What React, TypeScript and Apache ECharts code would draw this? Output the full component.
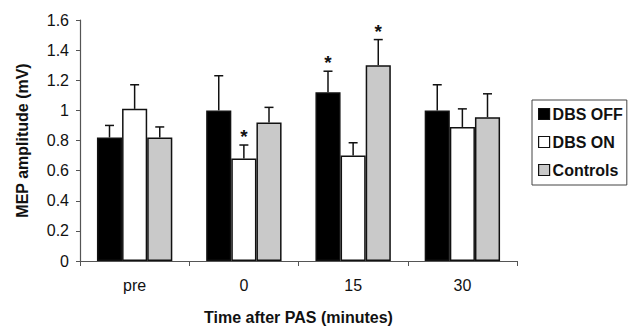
import React, { useEffect, useRef } from "react";
import * as echarts from "echarts";

const categories = ["pre", "0", "15", "30"];
const seriesNames = ["DBS OFF", "DBS ON", "Controls"];
const dbsOff = [0.82, 1.0, 1.12, 1.0];
const dbsOffErr = [0.08, 0.23, 0.14, 0.17];
const dbsOn = [1.01, 0.68, 0.7, 0.89];
const dbsOnErr = [0.16, 0.09, 0.085, 0.12];
const controls = [0.82, 0.92, 1.3, 0.955];
const controlsErr = [0.07, 0.1, 0.17, 0.155];
// significance markers: [series index, category index]
const stars = [
  [1, 1],
  [0, 2],
  [2, 2],
];

const FONT = "'Liberation Sans', Arial, sans-serif";
const colors = ["#000000", "#ffffff", "#c9c9c9"];
const values = [dbsOff, dbsOn, controls];
const errs = [dbsOffErr, dbsOnErr, controlsErr];
const CAT_GAP = 0.31;

export default function App() {
  const ref = useRef<HTMLDivElement>(null);
  useEffect(() => {
    if (!ref.current) return;
    const chart = echarts.init(ref.current, null, { renderer: "svg" });

    const errData: any[] = [];
    values.forEach((vals, s) => {
      vals.forEach((v, c) => {
        const star = stars.some((st) => st[0] === s && st[1] === c) ? 1 : 0;
        errData.push([c, v, errs[s][c], s, star]);
      });
    });

    const barSeries = values.map((vals, s) => ({
      name: seriesNames[s],
      type: "bar",
      data: vals,
      barGap: "0%",
      barCategoryGap: CAT_GAP * 100 + "%",
      itemStyle: { color: colors[s], borderColor: "#111", borderWidth: 1.5 },
      z: 2,
    }));

    chart.setOption({
      animation: false,
      grid: { left: 80, right: 121, top: 20, bottom: 67 },
      legend: {
        orient: "vertical",
        left: 532,
        top: 100,
        width: 104,
        data: seriesNames,
        itemWidth: 11,
        itemHeight: 11,
        itemGap: 12,
        borderColor: "#444",
        borderWidth: 1,
        padding: [6, 4, 7, 6],
        itemStyle: { borderColor: "#111", borderWidth: 1.2 },
        textStyle: {
          fontFamily: FONT,
          fontWeight: "bold",
          fontSize: 16,
          lineHeight: 16,
          color: "#111",
          padding: [0, 0, 0, -2],
        },
        icon: "rect",
      },
      xAxis: {
        type: "category",
        data: categories,
        name: "Time after PAS (minutes)",
        nameLocation: "middle",
        nameGap: 48,
        nameTextStyle: { fontFamily: FONT, fontWeight: "bold", fontSize: 16, color: "#111" },
        axisLine: { lineStyle: { color: "#555", width: 1.2 } },
        axisTick: { show: true, length: 5, lineStyle: { color: "#555" } },
        axisLabel: { fontFamily: FONT, fontSize: 16, color: "#111", margin: 16 },
      },
      yAxis: {
        type: "value",
        min: 0,
        max: 1.6,
        interval: 0.2,
        name: "MEP amplitude (mV)",
        nameLocation: "middle",
        nameGap: 50,
        nameTextStyle: { fontFamily: FONT, fontWeight: "bold", fontSize: 16, color: "#111" },
        splitLine: { show: false },
        axisLine: { show: true, lineStyle: { color: "#555", width: 1.2 } },
        axisTick: { show: true, length: 4, lineStyle: { color: "#555" } },
        axisLabel: {
          fontFamily: FONT,
          fontSize: 16,
          color: "#111",
          margin: 11,
          formatter: (v: number) => String(Math.round(v * 10) / 10),
        },
      },
      series: [
        ...barSeries,
        {
          type: "custom",
          z: 3,
          data: errData,
          encode: { x: 0, y: 1 },
          renderItem: (params: any, api: any) => {
            const c = api.value(0);
            const v = api.value(1);
            const e = api.value(2);
            const s = api.value(3);
            const star = api.value(4);
            const catW = api.size([1, 0])[0];
            const barW = (catW * (1 - CAT_GAP)) / 3;
            const base = api.coord([c, v]);
            const top = api.coord([c, v + e]);
            const x = base[0] + (s - 1) * barW;
            const children: any[] = [
              {
                type: "line",
                shape: { x1: x, y1: base[1], x2: x, y2: top[1] },
                style: { stroke: "#111", lineWidth: 1.5 },
              },
              {
                type: "line",
                shape: { x1: x - 4.5, y1: top[1], x2: x + 4.5, y2: top[1] },
                style: { stroke: "#111", lineWidth: 1.5 },
              },
            ];
            if (star) {
              children.push({
                type: "text",
                x: x,
                y: top[1] + 1,
                style: {
                  text: "*",
                  fontFamily: FONT,
                  fontWeight: "bold",
                  fontSize: 19,
                  fill: "#111",
                  align: "center",
                  verticalAlign: "bottom",
                },
              });
            }
            return { type: "group", children };
          },
        },
      ],
    });
    return () => chart.dispose();
  }, []);
  return <div ref={ref} style={{ width: 638, height: 330 }} />;
}

// reset default body margin
if (typeof document !== "undefined") {
  document.body.style.margin = "0";
}
